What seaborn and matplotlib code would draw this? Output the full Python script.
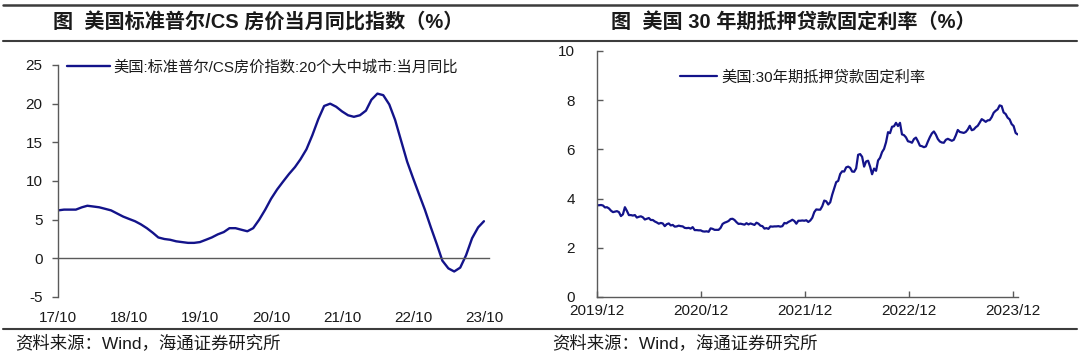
import matplotlib
matplotlib.use("Agg")
import matplotlib.pyplot as plt
import matplotlib.dates as mdates
from matplotlib.lines import Line2D
import pandas as pd
import seaborn as sns

# ── Data ──────────────────────────────────────────────────────────────────────

# S&P/CS 20-city home price index, YoY %, monthly from 2017/10
hp_start = "2017-10-01"
hp_yoy = [
    6.2, 6.3, 6.3, 6.3, 6.6, 6.8, 6.7, 6.6, 6.4, 6.2, 5.8, 5.4,
    5.1, 4.8, 4.4, 3.9, 3.3, 2.7, 2.5, 2.4, 2.2, 2.1, 2.0, 2.0,
    2.1, 2.4, 2.7, 3.1, 3.4, 3.9, 3.9, 3.7, 3.5, 3.9, 5.0, 6.3,
    7.7, 8.9, 9.9, 10.9, 11.8, 12.8, 14.1, 15.9, 18.0, 19.7, 20.0, 19.6,
    19.0, 18.5, 18.3, 18.5, 19.1, 20.5, 21.3, 21.1, 19.9, 17.9, 15.2, 12.5,
    10.4, 8.3, 6.3, 4.0, 1.8, -0.3, -1.3, -1.7, -1.2, 0.4, 2.6, 4.0,
    4.8,
]
hp_ticks = ["2017-10-01", "2018-10-01", "2019-10-01", "2020-10-01",
            "2021-10-01", "2022-10-01", "2023-10-01"]
hp_ticklabels = ["17/10", "18/10", "19/10", "20/10", "21/10", "22/10", "23/10"]

# US 30-year fixed mortgage rate, %, weekly from 2019/12/12
mr_start = "2019-12-12"
mr_2019 = [3.73, 3.73, 3.74]
mr_2020 = [
    3.72, 3.64, 3.65, 3.60, 3.51, 3.45, 3.47, 3.49, 3.45, 3.29, 3.36, 3.65,
    3.50, 3.33, 3.33, 3.31, 3.33, 3.23, 3.26, 3.28, 3.24, 3.15, 3.18, 3.21,
    3.13, 3.13, 3.07, 3.03, 2.98, 3.01, 2.99, 2.88, 2.96, 2.99, 2.91, 2.93,
    2.86, 2.87, 2.90, 2.88, 2.87, 2.81, 2.80, 2.81, 2.78, 2.84, 2.72, 2.72,
    2.71, 2.71, 2.67, 2.66, 2.67,
]
mr_2021 = [
    2.65, 2.79, 2.77, 2.73, 2.73, 2.73, 2.81, 2.97, 3.02, 3.05, 3.09, 3.17,
    3.18, 3.13, 3.04, 2.97, 2.98, 2.96, 2.94, 3.00, 2.95, 2.99, 2.96, 2.93,
    3.02, 2.98, 2.90, 2.88, 2.78, 2.80, 2.77, 2.87, 2.86, 2.87, 2.87, 2.88,
    2.86, 2.88, 3.01, 2.99, 3.05, 3.09, 3.14, 3.09, 2.98, 3.10, 3.10, 3.11,
    3.10, 3.12, 3.05, 3.11,
]
mr_2022 = [
    3.22, 3.45, 3.56, 3.55, 3.55, 3.69, 3.92, 3.89, 3.76, 3.85, 4.16, 4.42,
    4.67, 4.72, 5.00, 5.11, 5.10, 5.27, 5.30, 5.25, 5.10, 5.09, 5.23, 5.78,
    5.81, 5.70, 5.30, 5.51, 5.54, 5.30, 4.99, 5.22, 5.13, 5.55, 5.66, 5.89,
    6.02, 6.29, 6.70, 6.66, 6.92, 6.94, 7.08, 6.95, 7.08, 6.61, 6.58, 6.49,
    6.33, 6.31, 6.27, 6.42,
]
mr_2023 = [
    6.48, 6.33, 6.15, 6.13, 6.09, 6.12, 6.32, 6.50, 6.65, 6.73, 6.60, 6.42,
    6.32, 6.28, 6.27, 6.39, 6.43, 6.39, 6.35, 6.39, 6.57, 6.79, 6.71, 6.69,
    6.67, 6.71, 6.81, 6.96, 6.78, 6.81, 6.90, 6.96, 7.09, 7.23, 7.18, 7.12,
    7.18, 7.19, 7.31, 7.49, 7.57, 7.63, 7.79, 7.76, 7.50, 7.44, 7.29, 7.22,
    7.03, 6.95, 6.67, 6.61,
]
mr_ticks = ["2019-12-12", "2020-12-12", "2021-12-12", "2022-12-12", "2023-12-12"]
mr_ticklabels = ["2019/12", "2020/12", "2021/12", "2022/12", "2023/12"]

# ── Style ─────────────────────────────────────────────────────────────────────

sns.set_theme(style="white")
FONTS = ["Liberation Sans", "Noto Sans CJK SC", "DejaVu Sans"]
plt.rcParams["font.family"] = FONTS
plt.rcParams["axes.unicode_minus"] = False

LINE = "#13138a"
SPINE = "#5a5a5a"
TEXT = "#1a1a1a"

fig = plt.figure(figsize=(10.8, 3.58), dpi=100)
ax1 = fig.add_axes([58 / 1080, 1 - 297 / 358, (489 - 58) / 1080, (297 - 65) / 358])
ax2 = fig.add_axes([597 / 1080, 1 - 297 / 358, (1017.6 - 597) / 1080, (297 - 51) / 358])

# ── Left: home price YoY ─────────────────────────────────────────────────────

hp = pd.DataFrame({
    "date": pd.date_range(hp_start, periods=len(hp_yoy), freq="MS"),
    "美国:标准普尔/CS房价指数:20个大中城市:当月同比": hp_yoy,
})
sns.lineplot(data=hp, x="date", y=hp.columns[1], ax=ax1, color=LINE,
             linewidth=1.7, label=hp.columns[1])
ax1.set_xlim(pd.Timestamp("2017-10-01"), pd.Timestamp("2023-10-27"))
ax1.set_ylim(-5, 25)
ax1.set_yticks(range(-5, 26, 5))
ax1.set_xlabel("")
ax1.set_ylabel("")
for s in ["top", "right"]:
    ax1.spines[s].set_visible(False)
ax1.spines["bottom"].set_position(("data", 0))
for s in ["left", "bottom"]:
    ax1.spines[s].set_color(SPINE)
    ax1.spines[s].set_linewidth(1.0)
ax1.set_xticks(pd.to_datetime(hp_ticks))
ax1.tick_params(axis="x", direction="out", length=4, width=1, color=SPINE,
                labelbottom=False)
ax1.tick_params(axis="y", direction="out", length=4, width=1, color=SPINE,
                labelsize=11, labelcolor=TEXT, pad=7, left=True)

sec = ax1.secondary_xaxis(0)
sec.set_xticks(mdates.date2num(pd.to_datetime(hp_ticks)), hp_ticklabels)
sec.tick_params(length=0, labelsize=11, labelcolor=TEXT, pad=10)
sec.spines["bottom"].set_visible(False)

ax1.legend(loc="center left", bbox_to_anchor=(0.021, 0.99), frameon=False,
           fontsize=11, handlelength=2.8, handletextpad=0.2,
           borderpad=0, borderaxespad=0, labelcolor=TEXT)

# ── Right: 30y mortgage rate ─────────────────────────────────────────────────

mr_values = mr_2019 + mr_2020 + mr_2021 + mr_2022 + mr_2023
mr = pd.DataFrame({
    "date": pd.date_range(mr_start, periods=len(mr_values), freq="7D"),
    "美国:30年期抵押贷款固定利率": mr_values,
})
sns.lineplot(data=mr, x="date", y=mr.columns[1], ax=ax2, color=LINE,
             linewidth=1.6, label=mr.columns[1])
ax2.set_xlim(pd.Timestamp("2019-12-12"), pd.Timestamp("2023-12-28"))
ax2.set_ylim(0, 10)
ax2.set_yticks(range(0, 11, 2))
ax2.set_xticks(pd.to_datetime(mr_ticks), mr_ticklabels)
ax2.set_xlabel("")
ax2.set_ylabel("")
for s in ["top", "right"]:
    ax2.spines[s].set_visible(False)
for s in ["left", "bottom"]:
    ax2.spines[s].set_color(SPINE)
    ax2.spines[s].set_linewidth(1.0)
ax2.tick_params(axis="x", direction="in", length=4, width=1, color=SPINE,
                labelsize=11, labelcolor=TEXT, pad=5, bottom=True)
ax2.tick_params(axis="y", direction="in", length=4, width=1, color=SPINE,
                labelsize=11, labelcolor=TEXT, pad=16, left=True)
ax2.legend(loc="center left", bbox_to_anchor=(0.197, 0.894), frameon=False,
           fontsize=11, handlelength=2.4, handletextpad=0.3,
           borderpad=0, borderaxespad=0, labelcolor=TEXT)

# ── Report frame: rules, titles, source ──────────────────────────────────────

for y, lw in [(0.986, 1.8), (0.885, 1.5), (0.081, 1.5)]:
    fig.add_artist(Line2D([0.003, 0.997], [y, y], transform=fig.transFigure,
                          color="#3c3c3c", linewidth=lw))

fig.text(0.239, 0.938, "图  美国标准普尔/CS 房价当月同比指数（%）",
         ha="center", va="center", fontsize=14.5, fontweight="bold", color=TEXT)
fig.text(0.735, 0.938, "图  美国 30 年期抵押贷款固定利率（%）",
         ha="center", va="center", fontsize=14.5, fontweight="bold", color=TEXT)
fig.text(0.014, 0.042, "资料来源：Wind，海通证券研究所",
         ha="left", va="center", fontsize=12.5, color=TEXT)
fig.text(0.511, 0.042, "资料来源：Wind，海通证券研究所",
         ha="left", va="center", fontsize=12.5, color=TEXT)

plt.savefig("out.png", dpi=100)
